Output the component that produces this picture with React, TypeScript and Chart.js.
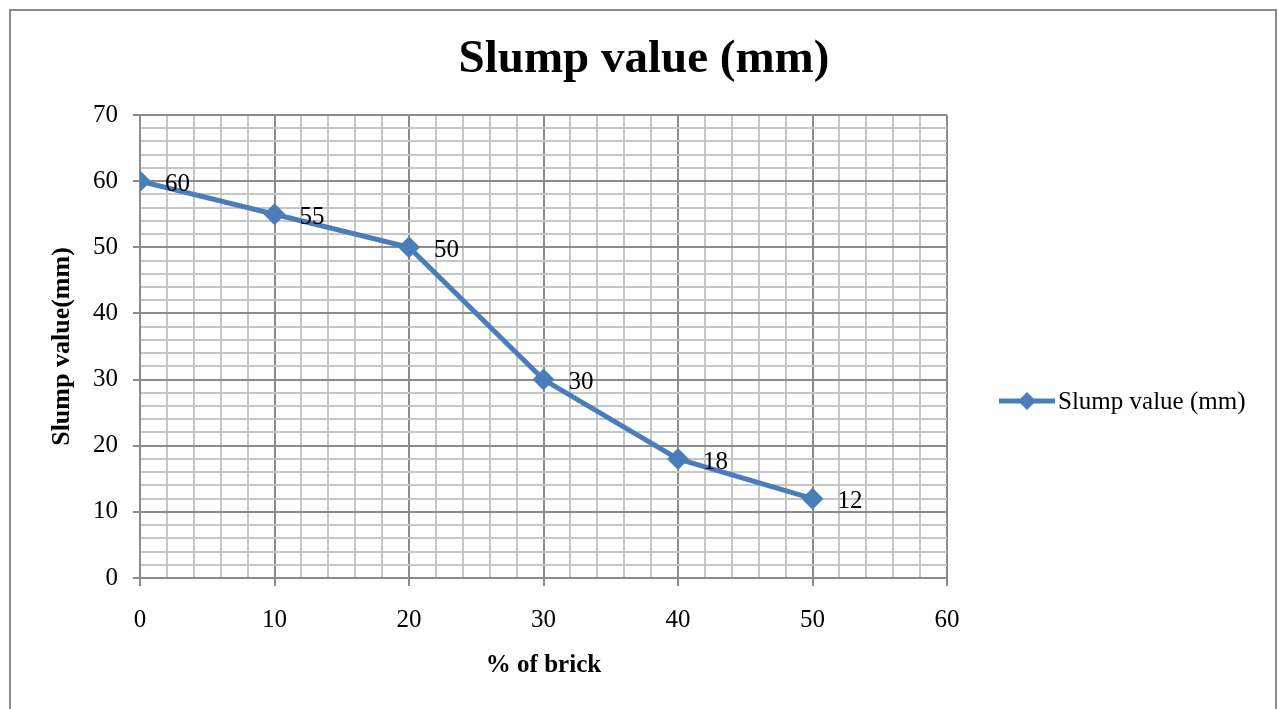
import React, { useEffect, useRef } from "react";
import { Chart, registerables } from "chart.js";

Chart.register(...registerables);

const brickPercent = [0, 10, 20, 30, 40, 50];
const slumpValues = [60, 55, 50, 30, 18, 12];
const seriesName = "Slump value (mm)";
const chartTitle = "Slump value (mm)";
const xAxisTitle = "% of brick";
const yAxisTitle = "Slump value(mm)";

const SERIF = "'Liberation Serif', 'Times New Roman', serif";
const LINE_COLOR = "#4a7ebb";
const MAJOR_GRID = "#8c8c8c";
const MINOR_GRID = "#c6c6c6";
const FONT_SIZE = 25;

const framePlugin = {
  id: "frame",
  beforeDraw(chart: any) {
    const ctx = chart.ctx;
    ctx.save();
    ctx.fillStyle = "#ffffff";
    ctx.fillRect(0, 0, chart.width, chart.height);
    ctx.strokeStyle = "#8a8a8a";
    ctx.lineWidth = 2;
    ctx.strokeRect(10, 10, chart.width - 12, chart.height + 20);
    ctx.font = `bold 47px ${SERIF}`;
    ctx.fillStyle = "#000";
    ctx.textAlign = "center";
    ctx.textBaseline = "middle";
    ctx.fillText(chartTitle, 644, 60);
    ctx.restore();
  },
};

const dataLabelPlugin = {
  id: "dataLabels",
  afterDatasetsDraw(chart: any) {
    const ctx = chart.ctx;
    const meta = chart.getDatasetMeta(0);
    ctx.save();
    ctx.font = `${FONT_SIZE}px ${SERIF}`;
    ctx.fillStyle = "#000";
    ctx.textAlign = "left";
    ctx.textBaseline = "middle";
    meta.data.forEach((pt: any, i: number) => {
      ctx.fillText(String(slumpValues[i]), pt.x + 25, pt.y + 3);
    });
    ctx.restore();
  },
};

const legendPlugin = {
  id: "customLegend",
  afterDraw(chart: any) {
    const ctx = chart.ctx;
    const y = 401;
    ctx.save();
    ctx.strokeStyle = LINE_COLOR;
    ctx.lineWidth = 5;
    ctx.beginPath();
    ctx.moveTo(999, y);
    ctx.lineTo(1055, y);
    ctx.stroke();
    ctx.fillStyle = LINE_COLOR;
    ctx.beginPath();
    ctx.moveTo(1027, y - 9);
    ctx.lineTo(1036, y);
    ctx.lineTo(1027, y + 9);
    ctx.lineTo(1018, y);
    ctx.closePath();
    ctx.fill();
    ctx.font = `${FONT_SIZE}px ${SERIF}`;
    ctx.fillStyle = "#000";
    ctx.textBaseline = "middle";
    ctx.fillText(seriesName, 1058, y + 1);
    ctx.restore();
  },
};

const isMajor = (c: any) => c.tick && c.tick.value % 10 === 0;

export default function App() {
  const canvasRef = useRef<HTMLCanvasElement | null>(null);

  useEffect(() => {
    document.body.style.margin = "0";
    const canvas = canvasRef.current;
    if (!canvas) return;
    const chart = new Chart(canvas, {
      type: "scatter",
      data: {
        datasets: [
          {
            label: seriesName,
            data: brickPercent.map((x, i) => ({ x, y: slumpValues[i] })),
            showLine: true,
            borderColor: LINE_COLOR,
            backgroundColor: LINE_COLOR,
            borderWidth: 5,
            pointStyle: "rectRot",
            pointRadius: 11,
            pointHoverRadius: 11,
            pointBorderWidth: 0,
            tension: 0,
          },
        ],
      },
      options: {
        responsive: false,
        animation: false,
        layout: { padding: { left: 0, right: 331, top: 115, bottom: 0 } },
        plugins: {
          legend: { display: false },
          tooltip: { enabled: false },
          title: { display: false },
        },
        scales: {
          x: {
            type: "linear",
            min: 0,
            max: 60,
            border: { display: true, color: MAJOR_GRID, width: 2 },
            ticks: {
              stepSize: 2,
              autoSkip: false,
              maxRotation: 0,
              padding: 19,
              color: "#000",
              font: { family: SERIF, size: FONT_SIZE },
              callback: (v: any) => (Number(v) % 10 === 0 ? String(v) : ""),
            },
            grid: {
              color: (c: any) => (isMajor(c) ? MAJOR_GRID : MINOR_GRID),
              lineWidth: 2,
              tickLength: 8,
              tickColor: (c: any) => (isMajor(c) ? MAJOR_GRID : "rgba(0,0,0,0)"),
            },
            title: {
              display: true,
              text: xAxisTitle,
              color: "#000",
              font: { family: SERIF, size: FONT_SIZE, weight: "bold", lineHeight: 1.2 },
              padding: { top: 0, bottom: 28 },
            },
            afterFit: (scale: any) => {
              scale.height = 131;
            },
          },
          y: {
            type: "linear",
            min: 0,
            max: 70,
            border: { display: true, color: MAJOR_GRID, width: 2 },
            ticks: {
              stepSize: 2,
              autoSkip: false,
              padding: 15,
              color: "#000",
              font: { family: SERIF, size: FONT_SIZE },
              callback: (v: any) => (Number(v) % 10 === 0 ? String(v) : ""),
            },
            grid: {
              color: (c: any) => (isMajor(c) ? MAJOR_GRID : MINOR_GRID),
              lineWidth: 2,
              tickLength: 7,
              tickColor: (c: any) => (isMajor(c) ? MAJOR_GRID : "rgba(0,0,0,0)"),
            },
            title: {
              display: true,
              text: yAxisTitle,
              color: "#000",
              font: { family: SERIF, size: 26, weight: "bold", lineHeight: 1.2 },
              padding: { top: 47, bottom: 0 },
            },
            afterFit: (scale: any) => {
              scale.width = 140;
            },
          },
        },
      },
      plugins: [framePlugin, dataLabelPlugin, legendPlugin],
    });
    return () => chart.destroy();
  }, []);

  return (
    <div style={{ width: 1278, height: 709 }}>
      <canvas ref={canvasRef} width={1278} height={709} style={{ display: "block" }} />
    </div>
  );
}
